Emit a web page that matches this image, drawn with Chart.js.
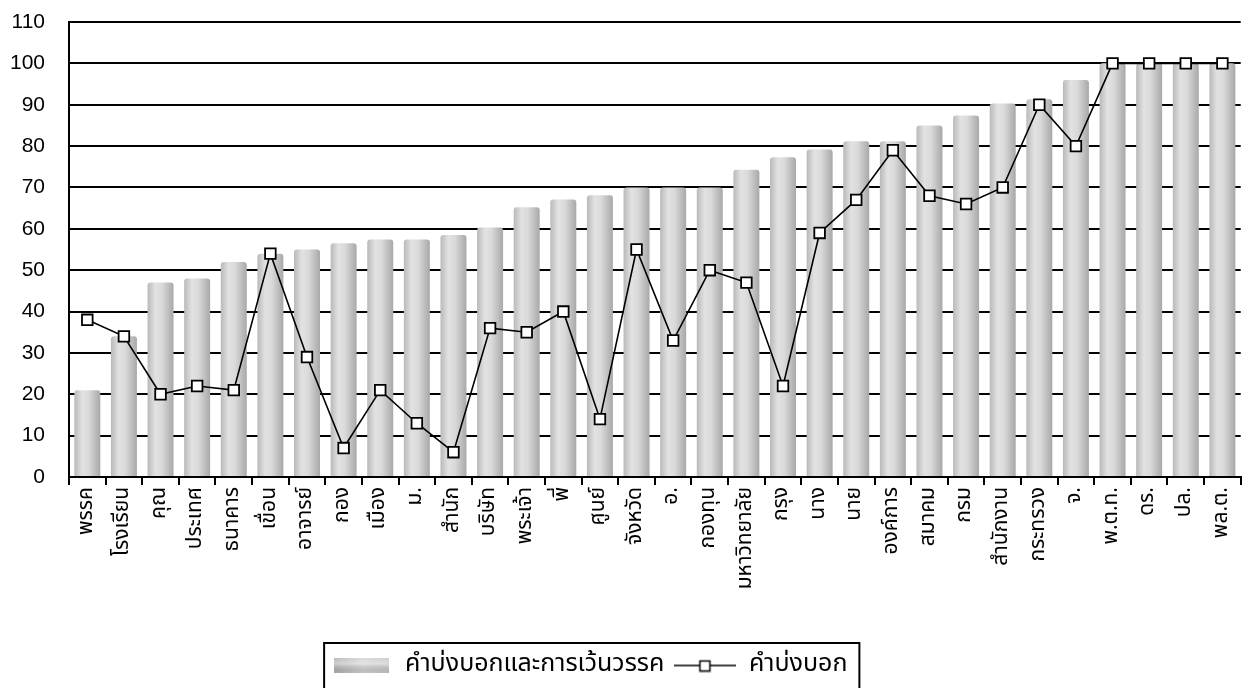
<!DOCTYPE html>
<html>
<head>
<meta charset="utf-8">
<script src="https://cdn.jsdelivr.net/npm/chart.js@4/dist/chart.umd.min.js"></script>
<style>
  html, body { margin: 0; padding: 0; background: #fff; }
  #wrap { width: 1250px; height: 688px; position: relative; }
</style>
</head>
<body>
<div id="wrap"><canvas id="c"></canvas></div>
<script>
const categories = ['พรรค','โรงเรียน','คุณ','ประเทศ','ธนาคาร','เขื่อน','อาจารย์','กอง','เมือง','ม.',
  'สำนัก','บริษัท','พระเจ้า','พี่','ศูนย์','จังหวัด','อ.','กองทุน','มหาวิทยาลัย','กรุง',
  'นาง','นาย','องค์การ','สมาคม','กรม','สำนักงาน','กระทรวง','จ.','พ.ต.ท.','ดร.','ปล.','พล.ต.'];
const barSeriesName = 'คำบ่งบอกและการเว้นวรรค';
const lineSeriesName = 'คำบ่งบอก';
const barValues = [21, 34, 47, 48, 52, 54, 55, 56.5, 57.4, 57.4,
  58.5, 60.3, 65.2, 67.1, 68.1, 70, 70, 70, 74.3, 77.3,
  79.2, 81.2, 81.2, 85, 87.4, 90.3, 91.3, 96, 100, 100, 100, 100];
const lineValues = [38, 34, 20, 22, 21, 54, 29, 7, 21, 13,
  6, 36, 35, 40, 14, 55, 33, 50, 47, 22,
  59, 67, 79, 68, 66, 70, 90, 80, 100, 100, 100, 100];
const yTicks = [0, 10, 20, 30, 40, 50, 60, 70, 80, 90, 100, 110];

const THAI = "Tahoma, 'Noto Sans Thai', 'Noto Sans', 'DejaVu Sans', sans-serif";
const BAR_FRAC = 0.71;

function addStops(g) {
  g.addColorStop(0, '#b9b9b9');
  g.addColorStop(0.3, '#e2e2e2');
  g.addColorStop(0.55, '#dadada');
  g.addColorStop(1, '#a8a8a8');
  return g;
}

function makeBarSwatch() {
  const cv = document.createElement('canvas');
  cv.width = 55; cv.height = 15;
  const x = cv.getContext('2d');
  const g2 = x.createLinearGradient(0, 0, 55, 0);
  g2.addColorStop(0, '#b4b4b4'); g2.addColorStop(0.5, '#d6d6d6'); g2.addColorStop(1, '#cacaca');
  x.fillStyle = g2; x.fillRect(0, 0, 55, 15);
  const g = x.createLinearGradient(0, 0, 0, 15);
  g.addColorStop(0, 'rgba(255,255,255,0.1)'); g.addColorStop(0.4, 'rgba(255,255,255,0.35)'); g.addColorStop(1, 'rgba(0,0,0,0.08)');
  x.fillStyle = g; x.fillRect(0, 0, 55, 15);
  return cv;
}
function makeLineSwatch() {
  const cv = document.createElement('canvas');
  cv.width = 62; cv.height = 14;
  const x = cv.getContext('2d');
  x.strokeStyle = '#000'; x.lineWidth = 1.5;
  x.beginPath(); x.moveTo(0, 7); x.lineTo(62, 7); x.stroke();
  x.fillStyle = '#fff'; x.fillRect(25, 2, 11, 11);
  x.lineWidth = 1.5; x.strokeRect(25.5, 2.5, 10, 10);
  return cv;
}
const barSwatch = makeBarSwatch();
const lineSwatch = makeLineSwatch();

const legendFrame = {
  id: 'legendFrame',
  afterLayout(chart) {
    const lg = chart.legend;
    if (lg) { lg.left -= 35; lg.right -= 35; }
  },
  afterDraw(chart) {
    const lg = chart.legend;
    if (!lg || !lg.legendHitBoxes || !lg.legendHitBoxes.length) return;
    const hb = lg.legendHitBoxes;
    const l = hb[0].left + 3.5 - 10;
    const r = hb[hb.length - 1].left + hb[hb.length - 1].width + 12;
    const t = hb[0].top - 10;
    const ctx = chart.ctx;
    ctx.save();
    ctx.strokeStyle = '#000';
    ctx.lineWidth = 2;
    ctx.strokeRect(l, t, r - l, 700 - t);
    ctx.restore();
  }
};

new Chart(document.getElementById('c'), {
  type: 'bar',
  data: {
    labels: categories,
    datasets: [
      {
        type: 'bar',
        label: barSeriesName,
        data: barValues,
        order: 1,
        backgroundColor: (c) => {
          const chart = c.chart;
          const xs = chart.scales && chart.scales.x;
          if (!xs || c.dataIndex === undefined || !chart.chartArea) return '#d2d2d2';
          const cx = xs.getPixelForValue(c.dataIndex);
          const w = (xs.width / categories.length) * BAR_FRAC;
          return addStops(chart.ctx.createLinearGradient(cx - w / 2, 0, cx + w / 2, 0));
        },
        borderWidth: 0,
        borderRadius: { topLeft: 3, topRight: 3 },
        borderSkipped: 'bottom',
        barPercentage: BAR_FRAC,
        categoryPercentage: 1
      },
      {
        type: 'line',
        label: lineSeriesName,
        data: lineValues,
        order: 0,
        borderColor: '#000',
        borderWidth: 1.6,
        tension: 0,
        pointStyle: 'rect',
        pointRadius: 7.5,
        pointBorderWidth: 1.8,
        pointBackgroundColor: '#fff',
        pointBorderColor: '#000'
      }
    ]
  },
  options: {
    responsive: true,
    maintainAspectRatio: false,
    animation: false,
    events: [],
    layout: { padding: { top: 22, left: 0, right: 2, bottom: 0 } },
    scales: {
      x: {
        offset: true,
        grid: { offset: true, drawOnChartArea: false, drawTicks: true, tickLength: 8, color: '#000', lineWidth: 2 },
        border: { display: true, color: '#000', width: 2 },
        ticks: {
          minRotation: 90, maxRotation: 90, autoSkip: false, padding: 2,
          color: '#000', font: { family: THAI, size: 21 }
        },
        afterFit(scale) { scale.height = 166; scale.paddingLeft = 0; scale.paddingRight = 0; }
      },
      y: {
        min: 0, max: 110,
        afterBuildTicks(scale) { scale.ticks = yTicks.map(v => ({ value: v })); },
        grid: { color: '#000', lineWidth: 2, drawTicks: false },
        border: { display: true, color: '#000', width: 2 },
        ticks: {
          padding: 24, color: '#000',
          font: { family: "'Liberation Sans', Arial, sans-serif", size: 21 }
        },
        afterFit(scale) { scale.width = 69; scale.paddingTop = 0; scale.paddingBottom = 0; }
      }
    },
    plugins: {
      tooltip: { enabled: false },
      legend: {
        position: 'bottom',
        labels: {
          usePointStyle: true,
          pointStyleWidth: 62,
          padding: 10,
          color: '#000',
          font: { family: THAI, size: 25 },
          generateLabels: () => [
            { text: barSeriesName, pointStyle: barSwatch, fillStyle: '#ccc', strokeStyle: '#ccc', lineWidth: 0, hidden: false, datasetIndex: 0, fontColor: '#000' },
            { text: lineSeriesName, pointStyle: lineSwatch, fillStyle: '#fff', strokeStyle: '#000', lineWidth: 0, hidden: false, datasetIndex: 1, fontColor: '#000' }
          ]
        }
      }
    }
  },
  plugins: [legendFrame]
});
</script>
</body>
</html>
